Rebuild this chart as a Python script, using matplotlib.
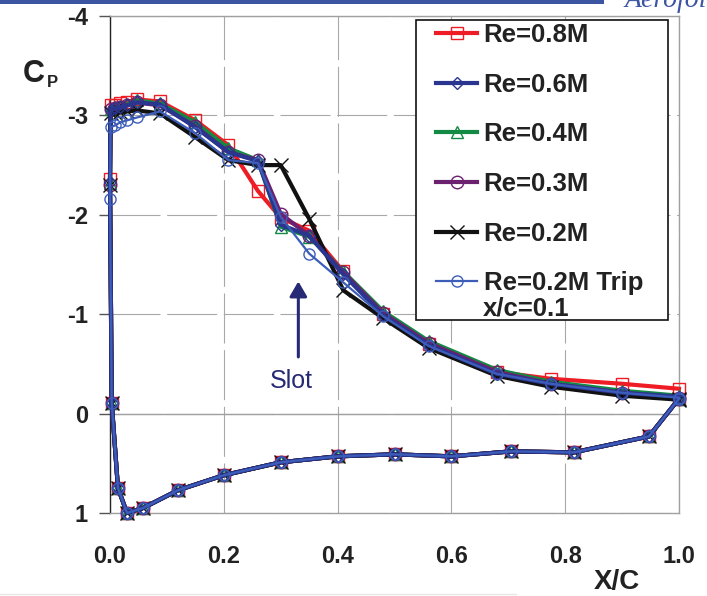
import matplotlib
matplotlib.use('Agg')
import matplotlib.pyplot as plt
from matplotlib.patches import Rectangle
from matplotlib.lines import Line2D

plt.rcParams['font.family'] = ['Liberation Sans', 'DejaVu Sans']
plt.rcParams['axes.unicode_minus'] = False

# chordwise stations, upper surface (LE -> TE) and lower surface (LE -> TE)
x_upper = [0.0, 0.001, 0.009, 0.018, 0.03, 0.048, 0.088, 0.15, 0.208, 0.26,
           0.30, 0.35, 0.41, 0.48, 0.56, 0.68, 0.775, 0.90, 1.0]
x_lower = [0.003, 0.014, 0.03, 0.058, 0.12, 0.20, 0.30, 0.40, 0.50, 0.60,
           0.705, 0.815, 0.947, 1.0]

cp_lower = [-0.11, 0.75, 1.0, 0.95, 0.77, 0.62, 0.49, 0.43, 0.41, 0.43,
            0.38, 0.39, 0.23, -0.15]

cp_re08 = [-2.36, -3.10, -3.10, -3.12, -3.13, -3.16, -3.14, -2.95, -2.70, -2.24,
           -1.97, -1.84, -1.43, -1.00, -0.70, -0.42, -0.35, -0.30, -0.25]
cp_re06 = [-2.33, -3.05, -3.07, -3.08, -3.10, -3.13, -3.11, -2.88, -2.63, -2.54,
           -1.90, -1.79, -1.40, -0.99, -0.69, -0.40, -0.30, -0.21, -0.17]
cp_re04 = [-2.32, -3.06, -3.08, -3.09, -3.11, -3.15, -3.12, -2.93, -2.67, -2.55,
           -1.88, -1.78, -1.43, -1.03, -0.73, -0.44, -0.32, -0.23, -0.18]
cp_re03 = [-2.30, -3.06, -3.07, -3.08, -3.10, -3.13, -3.10, -2.89, -2.63, -2.55,
           -2.01, -1.79, -1.42, -1.01, -0.71, -0.42, -0.30, -0.21, -0.16]
cp_re02 = [-2.30, -3.02, -3.02, -3.03, -3.04, -3.05, -3.02, -2.78, -2.55, -2.50,
           -2.50, -1.96, -1.24, -0.96, -0.66, -0.38, -0.27, -0.18, -0.14]
cp_trip = [-2.16, -2.88, -2.90, -2.93, -2.95, -2.98, -3.04, -2.82, -2.55, -2.52,
           -1.98, -1.61, -1.32, -0.98, -0.68, -0.40, -0.30, -0.21, -0.16]

labels = ['Re=0.8M', 'Re=0.6M', 'Re=0.4M', 'Re=0.3M', 'Re=0.2M', 'Re=0.2M Trip']
y_ticks = [-4, -3, -2, -1, 0, 1]
x_ticks = [0.0, 0.2, 0.4, 0.6, 0.8, 1.0]

# cp, colour, marker, marker size, line width, draw order
series = [
    (cp_re08, '#ee1c25', 's', 8.5, 3.0, 3.0),
    (cp_re06, '#2a3590', 'D', 6.5, 3.0, 3.5),
    (cp_re04, '#138a43', '^', 9, 3.0, 3.1),
    (cp_re03, '#6b2070', 'o', 9, 3.0, 3.2),
    (cp_re02, '#111111', 'x', 10, 3.0, 3.3),
    (cp_trip, '#3c5db8', 'o', 8, 1.6, 3.6),
]

W, H = 707, 596
fig = plt.figure(figsize=(W / 100, H / 100), dpi=100)
ax = fig.add_axes([110 / W, 1 - 513 / H, 569 / W, 497 / H])

handles = []
for (cp, col, mk, ms, lw, z), lab in zip(series, labels):
    xs = x_upper[::-1] + x_lower
    ys = cp[::-1] + cp_lower
    ln, = ax.plot(xs, ys, color=col, lw=lw, marker=mk, ms=ms, mfc='none',
                  mec=col, mew=1.0, clip_on=False, label=lab, zorder=z)
    handles.append(ln)

ax.set_xlim(0, 1.0)
ax.set_ylim(1, -4)
ax.set_xticks(x_ticks)
ax.set_xticklabels(['%.1f' % v for v in x_ticks])
ax.set_yticks(y_ticks)
ax.set_yticklabels([str(v) for v in y_ticks])
for t in ax.get_xticklabels() + ax.get_yticklabels():
    t.set_fontweight('bold')
    t.set_fontsize(17)
    t.set_color('#222222')
ax.tick_params(axis='x', length=0, pad=23)
ax.tick_params(axis='y', length=8, width=1, direction='out', pad=8, color='#555555')

ax.grid(True, color='#a8a8a8', lw=0.8, linestyle=(0, (45, 6)), zorder=0)
ax.axhline(0, color='#a0a0a0', lw=1.0, zorder=1)
for side in ['top', 'right', 'bottom']:
    ax.spines[side].set_color('#a0a0a0')
    ax.spines[side].set_linewidth(1.0)
ax.spines['left'].set_color('#222222')
ax.spines['left'].set_linewidth(1.0)
ax.set_axisbelow(True)

# legend (frame drawn separately so the two-line last label sits like the original)
frame = Rectangle((416 / W, 1 - 320 / H), 252 / W, 300 / H, transform=fig.transFigure,
                  facecolor='white', edgecolor='#111111', lw=1.2, zorder=4)
ax.add_patch(frame)
frame.set_clip_on(False)
leg = ax.legend(handles=handles, loc='upper left', frameon=False,
                bbox_to_anchor=(436 / W, 1 - 23 / H), bbox_transform=fig.transFigure,
                borderpad=0, borderaxespad=0, handlelength=1.6, handletextpad=0.25,
                labelspacing=1.0, numpoints=1,
                prop={'weight': 'bold', 'size': 18.5})
leg.set_zorder(5)
fig.text(483 / W, 1 - 308 / H, 'x/c=0.1', fontsize=18.5, fontweight='bold',
         va='center', ha='left', color='#222222', zorder=6)
for t in leg.get_texts():
    t.set_color('#222222')

# slot annotation
ax.annotate('', xy=(0.331, -1.33), xytext=(0.331, -0.57),
            arrowprops=dict(arrowstyle='-|>,head_length=0.6,head_width=0.35',
                            color='#262a74', lw=2.2, mutation_scale=15,
                            shrinkA=0, shrinkB=0), zorder=4)
ax.text(0.319, -0.33, 'Slot', fontsize=18, color='#262a74', ha='center', va='center')

# axis titles
fig.text(23 / W, 1 - 82 / H, 'C', fontsize=22, fontweight='bold', va='baseline',
         color='#222222')
fig.text(47 / W, 1 - 87 / H, 'P', fontsize=12, fontweight='bold', va='baseline',
         color='#222222')
fig.text(617 / W, 1 - 589 / H, 'X/C', fontsize=20, fontweight='bold',
         ha='center', va='baseline', color='#222222')

# slide decoration
fig.add_artist(Rectangle((0, 1 - 4 / H), 604 / W, 4 / H, transform=fig.transFigure,
                         color='#3c55a3', lw=0))
fig.text(625 / W, 1 - 7 / H, 'Aerofoil', fontsize=20, style='italic',
         family='Liberation Serif', color='#3c55a3', va='baseline')
fig.add_artist(Line2D([0, 516 / W], [1 - 594 / H, 1 - 594 / H],
                      transform=fig.transFigure, color='#e6e6e6', lw=1))

fig.savefig('out.png', dpi=100)
